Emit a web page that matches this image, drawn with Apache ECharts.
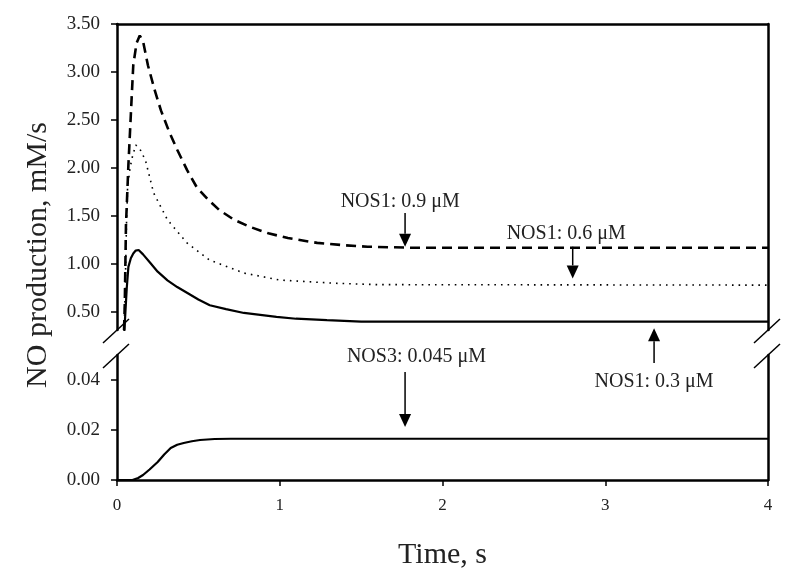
<!DOCTYPE html>
<html>
<head>
<meta charset="utf-8">
<script src="https://cdn.jsdelivr.net/npm/echarts@6/dist/echarts.min.js"></script>
<style>
  html, body { margin: 0; padding: 0; background: #fff; }
  #main { width: 800px; height: 582px; }
</style>
</head>
<body>
<div id="main"></div>
<script>
// NOS1 0.9 uM (dashed)
var t09 = [0, 0.04, 0.048, 0.055, 0.07, 0.09, 0.10, 0.12, 0.14, 0.16, 0.19, 0.23, 0.27, 0.32, 0.37, 0.43, 0.49, 0.56, 0.63, 0.72, 0.82, 0.93, 1.05, 1.23, 1.4, 1.54, 1.8, 4];
var v09 = [0, 0.1, 0.6, 1.4, 2.03, 2.73, 3.07, 3.30, 3.38, 3.32, 3.07, 2.82, 2.60, 2.38, 2.19, 1.98, 1.80, 1.67, 1.56, 1.46, 1.385, 1.32, 1.27, 1.22, 1.195, 1.18, 1.17, 1.17];
// NOS1 0.6 uM (dotted)
var t06 = [0, 0.04, 0.05, 0.058, 0.065, 0.08, 0.095, 0.115, 0.14, 0.175, 0.225, 0.31, 0.43, 0.57, 0.78, 1.0, 1.33, 1.6, 4];
var v06 = [0, 0.1, 0.7, 1.4, 1.8, 2.0, 2.12, 2.24, 2.2, 2.08, 1.74, 1.46, 1.22, 1.04, 0.906, 0.833, 0.80, 0.785, 0.78];
// NOS1 0.3 uM (solid)
var t03 = [0, 0.04, 0.05, 0.06, 0.07, 0.085, 0.10, 0.115, 0.133, 0.16, 0.205, 0.25, 0.31, 0.37, 0.43, 0.5, 0.57, 0.67, 0.78, 0.98, 1.1, 1.29, 1.5, 4];
var v03 = [0, 0.15, 0.45, 0.75, 0.97, 1.06, 1.11, 1.14, 1.146, 1.10, 1.01, 0.92, 0.83, 0.76, 0.70, 0.63, 0.57, 0.53, 0.49, 0.45, 0.43, 0.415, 0.40, 0.40];
// NOS3 0.045 uM (solid, lower panel)
var tNos3 = [0, 0.095, 0.13, 0.16, 0.2, 0.25, 0.29, 0.33, 0.37, 0.41, 0.46, 0.51, 0.6, 0.7, 4];
var vNos3 = [0, 0, 0.0008, 0.002, 0.0042, 0.0072, 0.0102, 0.0128, 0.0141, 0.0148, 0.0155, 0.016, 0.0164, 0.0165, 0.0165];

var xTicks = [0, 1, 2, 3, 4];
var topTicks = [0.5, 1.0, 1.5, 2.0, 2.5, 3.0, 3.5];
var bottomTicks = [0, 0.02, 0.04];

function pairs(t, v) {
  return t.map(function (x, i) { return [x, v[i]]; });
}

var font = "'Liberation Serif', 'DejaVu Serif', serif";
var axisCol = '#000';

var myChart = echarts.init(document.getElementById('main'));

var option = {
  animation: false,
  backgroundColor: '#fff',
  grid: [
    { left: 117, right: 32, top: 24, height: 306 },
    { left: 117, right: 32, top: 355, height: 125 }
  ],
  xAxis: [
    {
      gridIndex: 0, type: 'value', min: 0, max: 4, position: 'top',
      axisLine: { lineStyle: { color: axisCol, width: 2.5 } },
      axisTick: { show: false }, axisLabel: { show: false }, splitLine: { show: false }
    },
    {
      gridIndex: 1, type: 'value', min: 0, max: 4, interval: 1,
      axisLine: { lineStyle: { color: axisCol, width: 2.5 } },
      axisTick: { show: true, length: 6, customValues: xTicks, lineStyle: { color: axisCol, width: 1.5 } },
      axisLabel: { customValues: xTicks, color: '#222', fontFamily: font, fontSize: 17, margin: 17 },
      splitLine: { show: false },
      name: 'Time, s', nameLocation: 'middle', nameGap: 60,
      nameTextStyle: { color: '#222', fontFamily: font, fontSize: 30 }
    }
  ],
  yAxis: [
    {
      gridIndex: 0, type: 'value', min: 0.3125, max: 3.5,
      axisLine: { show: true, lineStyle: { color: axisCol, width: 2.5 } },
      axisTick: { show: true, length: 6, customValues: topTicks, lineStyle: { color: axisCol, width: 1.5 } },
      axisLabel: {
        customValues: topTicks, color: '#222', fontFamily: font, fontSize: 19, margin: 17,
        formatter: function (v) { return v.toFixed(2); }
      },
      splitLine: { show: false }
    },
    {
      gridIndex: 0, type: 'value', min: 0.3125, max: 3.5, position: 'right',
      axisLine: { show: true, lineStyle: { color: axisCol, width: 2.5 } },
      axisTick: { show: false }, axisLabel: { show: false }, splitLine: { show: false }
    },
    {
      gridIndex: 1, type: 'value', min: 0, max: 0.05,
      axisLine: { show: true, lineStyle: { color: axisCol, width: 2.5 } },
      axisTick: { show: true, length: 6, customValues: bottomTicks, lineStyle: { color: axisCol, width: 1.5 } },
      axisLabel: {
        customValues: bottomTicks, color: '#222', fontFamily: font, fontSize: 19, margin: 17,
        formatter: function (v) { return v.toFixed(2); }
      },
      splitLine: { show: false }
    },
    {
      gridIndex: 1, type: 'value', min: 0, max: 0.05, position: 'right',
      axisLine: { show: true, lineStyle: { color: axisCol, width: 2.5 } },
      axisTick: { show: false }, axisLabel: { show: false }, splitLine: { show: false }
    }
  ],
  series: [
    {
      name: 'NOS1: 0.9 μM', type: 'line', xAxisIndex: 0, yAxisIndex: 0,
      data: pairs(t09, v09), showSymbol: false, clip: true,
      lineStyle: { color: '#000', width: 2.6, type: [10, 6] }
    },
    {
      name: 'NOS1: 0.6 μM', type: 'line', xAxisIndex: 0, yAxisIndex: 0,
      data: pairs(t06, v06), showSymbol: false, clip: true,
      lineStyle: { color: '#000', width: 1.6, type: [1.6, 5] }
    },
    {
      name: 'NOS1: 0.3 μM', type: 'line', xAxisIndex: 0, yAxisIndex: 0,
      data: pairs(t03, v03), showSymbol: false, clip: true,
      lineStyle: { color: '#000', width: 2.2 }
    },
    {
      name: 'NOS3: 0.045 μM', type: 'line', xAxisIndex: 1, yAxisIndex: 2,
      data: pairs(tNos3, vNos3), showSymbol: false, clip: true,
      lineStyle: { color: '#000', width: 2.2 }
    }
  ]
};
myChart.setOption(option);

// annotations: text position and arrow (tail -> tip), each point given as [gridIndex, x, y]
var notes = [
  { text: 'NOS1: 0.9 μM', at: [0, 1.74, 1.646], tail: [0, 1.77, 1.53], tip: [0, 1.77, 1.18] },
  { text: 'NOS1: 0.6 μM', at: [0, 2.76, 1.32], tail: [0, 2.80, 1.18], tip: [0, 2.80, 0.85] },
  { text: 'NOS1: 0.3 μM', at: [1, 3.30, 0.0392], tail: [1, 3.30, 0.0468], tip: [0, 3.30, 0.33] },
  { text: 'NOS3: 0.045 μM', at: [1, 1.84, 0.0492], tail: [1, 1.77, 0.0432], tip: [1, 1.77, 0.0212] }
];

function px(p) {
  return myChart.convertToPixel({ gridIndex: p[0] }, [p[1], p[2]]);
}

var graphics = [];
notes.forEach(function (n) {
  var a = px(n.at), s = px(n.tail), e = px(n.tip);
  var dir = e[1] > s[1] ? 1 : -1;
  var headLen = 13, headW = 6;
  graphics.push({
    type: 'text', x: a[0], y: a[1],
    style: { text: n.text, font: '20px ' + font, fill: '#222', align: 'center', verticalAlign: 'middle' }
  });
  graphics.push({
    type: 'line',
    shape: { x1: s[0], y1: s[1], x2: e[0], y2: e[1] - dir * headLen },
    style: { stroke: '#000', lineWidth: 1.5 }
  });
  graphics.push({
    type: 'polygon',
    shape: { points: [[e[0], e[1]], [e[0] - headW, e[1] - dir * headLen], [e[0] + headW, e[1] - dir * headLen]] },
    style: { fill: '#000' }
  });
});

// axis break marks on both sides of the plot
var yBreakTop = px([0, 0, 0.3125])[1], yBreakBot = px([1, 0, 0.05])[1];
var xLeft = px([1, 0, 0])[0], xRight = px([1, 4, 0])[0];
[xLeft, xRight].forEach(function (xa) {
  [yBreakTop, yBreakBot].forEach(function (yb) {
    graphics.push({
      type: 'line',
      shape: { x1: xa - 14, y1: yb + 13, x2: xa + 12, y2: yb - 11 },
      style: { stroke: '#000', lineWidth: 1.5 }
    });
  });
});

// y axis title
graphics.push({
  type: 'text', x: 38, y: 255, rotation: Math.PI / 2,
  style: { text: 'NO production, mM/s', font: '30px ' + font, fill: '#222', align: 'center', verticalAlign: 'middle' }
});

myChart.setOption({ graphic: graphics });
</script>
</body>
</html>
